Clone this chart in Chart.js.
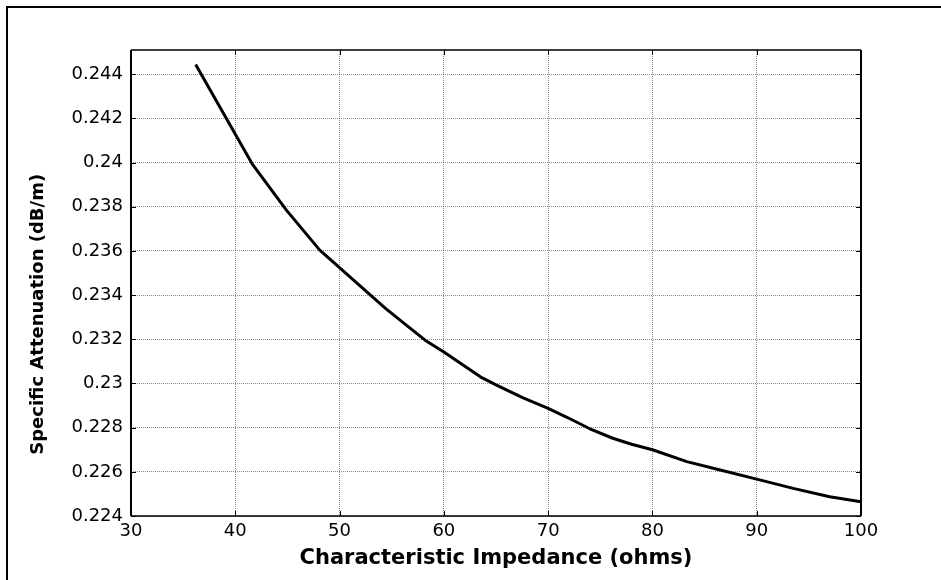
<!DOCTYPE html>
<html>
<head>
<meta charset="utf-8">
<script src="https://cdn.jsdelivr.net/npm/chart.js@4.4.0/dist/chart.umd.min.js"></script>
<style>
  body { margin: 0; background: #fff; }
  #wrap { position: relative; width: 941px; height: 580px; }
  #frame {
    position: absolute; left: 6px; top: 6px; right: -10px; bottom: -10px;
    border-left: 2px solid #000; border-top: 2px solid #000;
    pointer-events: none;
  }
</style>
</head>
<body>
<div id="wrap">
  <canvas id="chartAtt"></canvas>
  <div id="frame"></div>
</div>
<script>
// Données : impédance (ohms) -> atténuation (dB/m)
const impedance = [36.2, 41.6, 44.9, 48.1, 54.4, 55.8, 58.2, 60, 63.5, 65, 67.6, 70,
  71.8, 74, 76.2, 78, 80, 83.3, 86.5, 90, 93.5, 97, 100];
const attenuation = [0.24444, 0.23996, 0.23785, 0.23604, 0.23340, 0.23287, 0.23196, 0.23143,
  0.23030, 0.22994, 0.22935, 0.22887, 0.22847, 0.22795, 0.22752, 0.22725, 0.22700, 0.22646,
  0.22608, 0.22567, 0.22525, 0.22487, 0.22465];

// Graduations
const xTicks = [30, 40, 50, 60, 70, 80, 90, 100];
const xTickLabels = ['30', '40', '50', '60', '70', '80', '90', '100'];
const yTicks = [0.224, 0.226, 0.228, 0.23, 0.232, 0.234, 0.236, 0.238, 0.24, 0.242, 0.244];
const yTickLabels = ['0.224', '0.226', '0.228', '0.23', '0.232', '0.234', '0.236', '0.238', '0.24', '0.242', '0.244'];

const xTitle = 'Characteristic Impedance (ohms)';
// espaces en fin de texte : le titre est un peu décalé vers le bas comme sur la figure
const yTitle = 'Specific Attenuation (dB/m)' + '          ';

const points = impedance.map((x, i) => ({ x: x, y: attenuation[i] }));

// Cadre + petites graduations vers l'intérieur (style MATLAB)
const boxTicks = {
  id: 'boxTicks',
  afterDraw(chart) {
    const ctx = chart.ctx;
    const a = chart.chartArea;
    const sx = chart.scales.x, sy = chart.scales.y;
    const len = 5;
    ctx.save();
    ctx.strokeStyle = '#000';
    ctx.lineWidth = 1;
    ctx.beginPath();
    xTicks.forEach(v => {
      const px = Math.round(sx.getPixelForValue(v)) + 0.5;
      ctx.moveTo(px, a.bottom); ctx.lineTo(px, a.bottom - len);
      ctx.moveTo(px, a.top); ctx.lineTo(px, a.top + len);
    });
    yTicks.forEach(v => {
      const py = Math.round(sy.getPixelForValue(v)) + 0.5;
      ctx.moveTo(a.left, py); ctx.lineTo(a.left + len, py);
      ctx.moveTo(a.right, py); ctx.lineTo(a.right - len, py);
    });
    ctx.stroke();
    // bords horizontaux
    ctx.lineWidth = 1.5;
    ctx.beginPath();
    ctx.moveTo(a.left, a.top); ctx.lineTo(a.right, a.top);
    ctx.moveTo(a.left, a.bottom); ctx.lineTo(a.right, a.bottom);
    ctx.stroke();
    // bords verticaux
    ctx.lineWidth = 2;
    ctx.beginPath();
    ctx.moveTo(a.left, a.top); ctx.lineTo(a.left, a.bottom);
    ctx.moveTo(a.right, a.top); ctx.lineTo(a.right, a.bottom);
    ctx.stroke();
    ctx.restore();
  }
};

const gridStyle = {
  color: 'rgba(0,0,0,0.45)',
  lineWidth: 1,
  drawTicks: false,
  tickLength: 0
};

new Chart(document.getElementById('chartAtt'), {
  type: 'line',
  data: {
    datasets: [{
      data: points,
      borderColor: '#000',
      borderWidth: 3,
      pointRadius: 0,
      tension: 0,
      borderJoinStyle: 'round',
      fill: false
    }]
  },
  options: {
    responsive: true,
    maintainAspectRatio: false,
    animation: false,
    layout: { padding: { left: 0, top: 50, right: 80, bottom: 0 } },
    plugins: {
      legend: { display: false },
      tooltip: { enabled: false }
    },
    scales: {
      x: {
        type: 'linear',
        min: 30,
        max: 100,
        afterBuildTicks: (scale) => { scale.ticks = xTicks.map(v => ({ value: v })); },
        afterFit: (scale) => { scale.height = 64; },
        grid: gridStyle,
        border: { display: false, dash: [1, 1] },
        ticks: {
          color: '#000',
          padding: 5,
          maxRotation: 0,
          font: { family: 'DejaVu Sans', size: 18 },
          callback: (v) => xTickLabels[xTicks.indexOf(v)]
        },
        title: {
          display: true,
          text: xTitle,
          color: '#000',
          font: { family: 'DejaVu Sans', size: 21, weight: 'bold' },
          padding: { top: 0, bottom: 9 }
        }
      },
      y: {
        type: 'linear',
        min: 0.224,
        max: 0.2451,
        afterBuildTicks: (scale) => { scale.ticks = yTicks.map(v => ({ value: v })); },
        afterFit: (scale) => { scale.width = 131; },
        grid: gridStyle,
        border: { display: false, dash: [1, 1] },
        ticks: {
          color: '#000',
          padding: 8,
          font: { family: 'DejaVu Sans', size: 18 },
          callback: (v) => yTickLabels[yTicks.findIndex(t => Math.abs(t - v) < 1e-9)]
        },
        title: {
          display: true,
          text: yTitle,
          color: '#000',
          font: { family: 'DejaVu Sans', size: 18, weight: 'bold' },
          padding: { top: 28, bottom: 0 }
        }
      }
    }
  },
  plugins: [boxTicks]
});
</script>
</body>
</html>
